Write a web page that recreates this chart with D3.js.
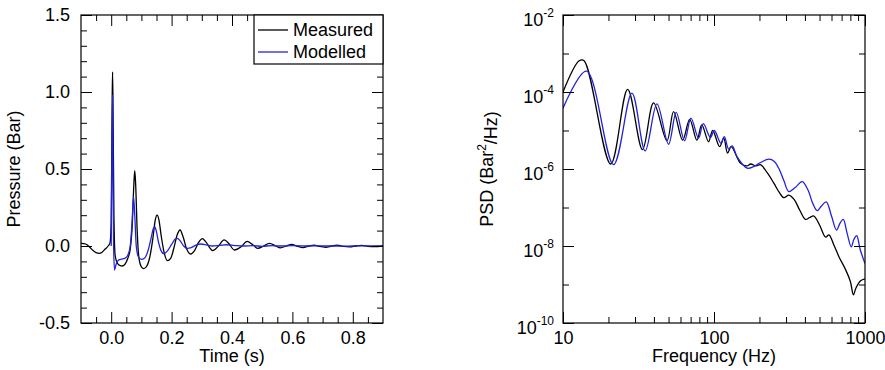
<!DOCTYPE html>
<html>
<head>
<meta charset="utf-8">
<script src="https://cdn.jsdelivr.net/npm/d3@7"></script>
<style>
  body { margin: 0; background: #fff; }
  text { font-family: "Liberation Sans", Arial, Helvetica, sans-serif; fill: #000; }
</style>
</head>
<body>
<script>
// time trace (s, Bar)
const tMeas = [-0.1, -0.09, -0.08, -0.07, -0.06, -0.05, -0.04, -0.03, -0.02, -0.01, -0.004, 0.0, 0.003, 0.0045, 0.006, 0.009, 0.013, 0.02, 0.03, 0.036, 0.045, 0.055, 0.063, 0.07, 0.075, 0.078, 0.081, 0.086, 0.092, 0.1, 0.108, 0.118, 0.128, 0.138, 0.146, 0.152, 0.158, 0.166, 0.175, 0.186, 0.197, 0.208, 0.218, 0.228, 0.238, 0.25, 0.263, 0.276, 0.29, 0.302, 0.314, 0.336, 0.355, 0.374, 0.39, 0.408, 0.43, 0.45, 0.468, 0.485, 0.505, 0.524, 0.545, 0.56, 0.58, 0.597, 0.615, 0.635, 0.655, 0.672, 0.69, 0.71, 0.73, 0.748, 0.77, 0.79, 0.81, 0.83, 0.85, 0.87, 0.9];
const pMeas = [0.017, 0.016, 0.008, -0.01, -0.03, -0.043, -0.048, -0.04, -0.02, 0.0, 0.02, 0.15, 0.9, 1.13, 0.9, 0.2, -0.06, -0.11, -0.128, -0.13, -0.12, -0.08, -0.02, 0.15, 0.4, 0.49, 0.4, 0.1, -0.08, -0.135, -0.147, -0.13, -0.07, 0.05, 0.17, 0.2, 0.17, 0.06, -0.04, -0.095, -0.08, -0.01, 0.07, 0.104, 0.06, -0.02, -0.052, -0.03, 0.025, 0.048, 0.025, -0.03, 0.0, 0.04, 0.015, -0.026, -0.005, 0.03, 0.01, -0.015, 0.0, 0.017, 0.0, -0.012, 0.0, 0.01, 0.0, -0.01, 0.0, 0.006, -0.003, -0.008, 0.0, 0.006, -0.003, -0.006, 0.0, 0.004, -0.002, -0.004, 0.0];

const tMod = [0.0, 0.002, 0.0045, 0.006, 0.008, 0.011, 0.016, 0.025, 0.035, 0.045, 0.055, 0.063, 0.069, 0.074, 0.078, 0.083, 0.09, 0.1, 0.11, 0.122, 0.132, 0.139, 0.144, 0.149, 0.156, 0.165, 0.174, 0.185, 0.2, 0.212, 0.219, 0.228, 0.24, 0.252, 0.265, 0.28, 0.297, 0.315, 0.335, 0.36, 0.38, 0.41, 0.44, 0.47, 0.5, 0.53, 0.56, 0.6, 0.65, 0.7, 0.75, 0.8, 0.85, 0.9];
const pMod = [0.0, 0.5, 0.98, 0.5, 0.0, -0.156, -0.12, -0.09, -0.085, -0.08, -0.06, 0.0, 0.15, 0.32, 0.2, 0.0, -0.07, -0.087, -0.08, -0.03, 0.05, 0.11, 0.125, 0.1, 0.03, -0.03, -0.05, -0.035, 0.01, 0.045, 0.05, 0.035, 0.0, -0.015, -0.01, 0.005, 0.013, 0.008, 0.0, 0.004, 0.008, 0.003, 0.0, 0.002, -0.002, 0.002, 0.0, 0.002, 0.0, 0.001, -0.001, 0.0, 0.001, 0.0];

// spectra (Hz, Bar^2/Hz)
const fMeas = [10, 12.8, 13.8, 20.7, 26.8, 33.6, 39.8, 48.8, 54, 62, 69, 77, 83, 92, 98, 109, 116, 123, 130, 150, 165, 175, 190, 203, 225, 249, 270, 290, 313, 340, 370, 404, 430, 459, 500, 548, 577, 620, 673, 745, 800, 838, 870, 935, 1000];
const psdMeas = [1.0e-4, 6.5e-4, 6.5e-4, 1.35e-6, 1.17e-4, 3.2e-6, 5.2e-5, 5.4e-6, 3.1e-5, 5.6e-6, 1.95e-5, 5.6e-6, 1.4e-5, 5.1e-6, 1.0e-5, 3.8e-6, 6.3e-6, 2.6e-6, 3.8e-6, 1.4e-6, 1.2e-6, 1.35e-6, 1.2e-6, 1.3e-6, 8e-7, 4.3e-7, 2.5e-7, 1.8e-7, 2.1e-7, 1.6e-7, 8.5e-8, 4.9e-8, 5.5e-8, 6.0e-8, 3.5e-8, 1.7e-8, 1.95e-8, 1.1e-8, 5.2e-9, 2.4e-9, 1.2e-9, 5.4e-10, 8e-10, 1.25e-9, 1.4e-9];

const fMod = [10, 14.3, 21.6, 28.6, 35, 41.9, 50, 56.2, 63.8, 70.4, 79, 85, 94.6, 100.5, 111, 117, 125, 132, 142, 166, 183, 205, 231, 250, 270, 290, 313, 345, 384, 420, 450, 482, 515, 554, 600, 648, 685, 718, 760, 811, 845, 881, 930, 1000];
const psdMod = [3.8e-5, 3.5e-4, 1.3e-6, 9.3e-5, 2.95e-6, 4.9e-5, 4.4e-6, 2.95e-5, 5.4e-6, 2.1e-5, 6.3e-6, 1.5e-5, 6.6e-6, 1.0e-5, 4.7e-6, 6.9e-6, 3.3e-6, 4.0e-6, 2.1e-6, 1.05e-6, 1.15e-6, 1.5e-6, 1.8e-6, 1.6e-6, 1.0e-6, 5e-7, 2.6e-7, 3.3e-7, 4.7e-7, 2.8e-7, 1.3e-7, 8.3e-8, 1.1e-7, 1.4e-7, 6e-8, 2.6e-8, 4e-8, 4.9e-8, 2.2e-8, 9.5e-9, 1.5e-8, 1.85e-8, 8e-9, 3.5e-9];

const seriesNames = ['Measured', 'Modelled'];
const seriesColors = ['#000000', '#2222dd'];

const width = 885,
  height = 370;

const svg = d3
  .select('body')
  .append('svg')
  .attr('width', width)
  .attr('height', height);

const pw = 302,
  ph = 308;

// inward ticks on all four sides
function frameAxes(g, x, y, opt) {
  const add = (axis, tr) => {
    const a = g.append('g').attr('transform', tr).call(axis);
    a.select('.domain').remove();
    a.selectAll('.tick line').attr('stroke', '#000');
    a.selectAll('text').style('font-size', '18px').attr('font-family', null);
    return a;
  };
  // minor
  add(d3.axisBottom(x).tickValues(opt.xMinor).tickSize(-6).tickFormat(''), `translate(0,${ph})`);
  add(d3.axisTop(x).tickValues(opt.xMinor).tickSize(-6).tickFormat(''), 'translate(0,0)');
  add(d3.axisLeft(y).tickValues(opt.yMinor).tickSize(-6).tickFormat(''), 'translate(0,0)');
  add(d3.axisRight(y).tickValues(opt.yMinor).tickSize(-6).tickFormat(''), `translate(${pw},0)`);
  // major
  const xb = add(d3.axisBottom(x).tickValues(opt.xMajor).tickSize(-11).tickPadding(8).tickFormat(opt.xFmt), `translate(0,${ph})`);
  add(d3.axisTop(x).tickValues(opt.xMajor).tickSize(-11).tickFormat(''), 'translate(0,0)');
  const yl = add(d3.axisLeft(y).tickValues(opt.yMajor).tickSize(-11).tickPadding(opt.yPad).tickFormat(opt.yFmt), 'translate(0,0)');
  add(d3.axisRight(y).tickValues(opt.yMajor).tickSize(-11).tickFormat(''), `translate(${pw},0)`);
  g.append('rect')
    .attr('width', pw)
    .attr('height', ph)
    .attr('fill', 'none')
    .attr('stroke', '#000')
    .attr('stroke-width', 1.2);
  return { xb, yl };
}

// ---------- left: pressure vs time ----------
const g1 = svg.append('g').attr('transform', 'translate(81,15)');
const x1 = d3.scaleLinear().domain([-0.1, 0.9]).range([0, pw]);
const y1 = d3.scaleLinear().domain([-0.5, 1.5]).range([ph, 0]);

g1.append('clipPath').attr('id', 'c1').append('rect').attr('width', pw).attr('height', ph);

const line1 = d3.line().x(d => x1(d[0])).y(d => y1(d[1])).curve(d3.curveMonotoneX);
const timeSeries = [d3.zip(tMeas, pMeas), d3.zip(tMod, pMod)];
g1.append('g')
  .attr('clip-path', 'url(#c1)')
  .selectAll('path')
  .data(timeSeries)
  .join('path')
  .attr('d', line1)
  .attr('fill', 'none')
  .attr('stroke', (d, i) => seriesColors[i])
  .attr('stroke-width', 1.3);

frameAxes(g1, x1, y1, {
  xMajor: [0, 0.2, 0.4, 0.6, 0.8],
  xMinor: d3.range(-0.05, 0.9, 0.05).filter(v => Math.abs(v / 0.2 - Math.round(v / 0.2)) > 1e-6),
  yMajor: [-0.5, 0, 0.5, 1, 1.5],
  yMinor: d3.range(-0.4, 1.5, 0.1).filter(v => Math.abs(v / 0.5 - Math.round(v / 0.5)) > 1e-6),
  xFmt: d => d.toFixed(1),
  yFmt: d => d.toFixed(1),
  yPad: 11
});

// legend
const lg = g1.append('g').attr('transform', `translate(${pw - 129},0)`);
lg.append('rect').attr('width', 129).attr('height', 49).attr('fill', '#fff').attr('stroke', '#000').attr('stroke-width', 1.2);
seriesNames.forEach((n, i) => {
  const yy = 15 + i * 22;
  lg.append('line').attr('x1', 4).attr('x2', 34).attr('y1', yy).attr('y2', yy)
    .attr('stroke', seriesColors[i]).attr('stroke-width', 1.3);
  lg.append('text').attr('x', 39).attr('y', yy + 6).style('font-size', '18px').text(n);
});

g1.append('text')
  .attr('x', pw / 2)
  .attr('y', 347)
  .attr('text-anchor', 'middle')
  .style('font-size', '18px')
  .text('Time (s)');
g1.append('text')
  .attr('transform', `translate(-61,${ph / 2}) rotate(-90)`)
  .attr('text-anchor', 'middle')
  .style('font-size', '18px')
  .text('Pressure (Bar)');

// ---------- right: PSD ----------
const g2 = svg.append('g').attr('transform', 'translate(563,15)');
const x2 = d3.scaleLog().domain([10, 1000]).range([0, pw]);
const y2 = d3.scaleLog().domain([1e-10, 1e-2]).range([ph, 0]);

g2.append('clipPath').attr('id', 'c2').append('rect').attr('width', pw).attr('height', ph);

const line2 = d3.line().x(d => x2(d[0])).y(d => y2(d[1])).curve(d3.curveCatmullRom.alpha(0.5));
const psdSeries = [d3.zip(fMeas, psdMeas), d3.zip(fMod, psdMod)];
g2.append('g')
  .attr('clip-path', 'url(#c2)')
  .selectAll('path')
  .data(psdSeries)
  .join('path')
  .attr('d', line2)
  .attr('fill', 'none')
  .attr('stroke', (d, i) => seriesColors[i])
  .attr('stroke-width', 1.3);

const ax2 = frameAxes(g2, x2, y2, {
  xMajor: [10, 100, 1000],
  xMinor: [20, 30, 40, 50, 60, 70, 80, 90, 200, 300, 400, 500, 600, 700, 800, 900],
  yMajor: [1e-10, 1e-8, 1e-6, 1e-4, 1e-2],
  yMinor: [1e-9, 1e-7, 1e-5, 1e-3],
  xFmt: d => String(d),
  yFmt: d => '',
  yPad: 9
});

ax2.yl.selectAll('.tick text').each(function (d) {
  const t = d3.select(this).attr('dy', '0.6em');
  t.text(null);
  t.append('tspan').text('10');
  t.append('tspan')
    .attr('dy', '-0.75em')
    .style('font-size', '12px')
    .text('-' + Math.round(-Math.log10(d)));
});

g2.append('text')
  .attr('x', pw / 2)
  .attr('y', 347)
  .attr('text-anchor', 'middle')
  .style('font-size', '18px')
  .text('Frequency (Hz)');

const yt = g2.append('text')
  .attr('transform', `translate(-70,${ph / 2}) rotate(-90)`)
  .attr('text-anchor', 'middle')
  .style('font-size', '18px');
yt.append('tspan').text('PSD (Bar');
yt.append('tspan').attr('dy', '-0.6em').style('font-size', '12px').text('2');
yt.append('tspan').attr('dy', '0.6em').text('/Hz)');
</script>
</body>
</html>
